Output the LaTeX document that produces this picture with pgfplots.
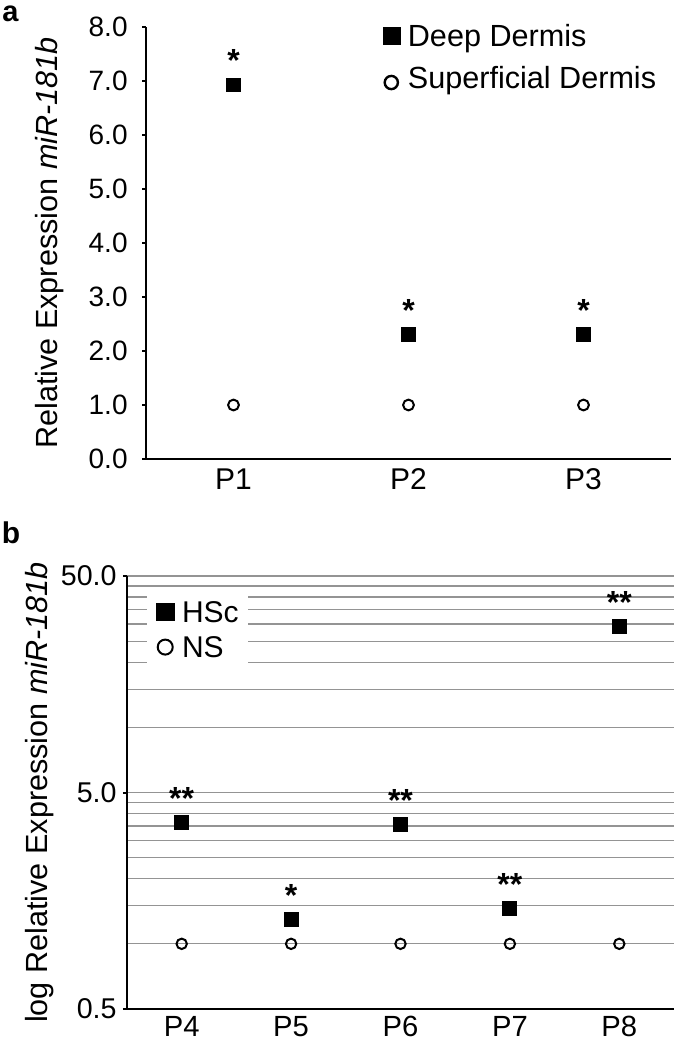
\documentclass[border=0pt]{standalone}
\usepackage{fontspec}
\setmainfont{Liberation Sans}
\usepackage{pgfplots}
\pgfplotsset{compat=1.18}

\pgfplotsset{
  panel/.style={
    scale only axis,
    axis x line*=bottom, axis y line*=left,
    axis line style={line width=1.1pt, -},
    tick align=outside,
    major tick length=2pt,
    minor tick length=0pt,
    ytick style={line width=1pt, black},
    xtick style={draw=none},
    /pgf/number format/assume math mode=true,
    yticklabel style={anchor=east, inner sep=0pt, font=\fontsize{14}{16}\selectfont},
    xticklabel style={anchor=north, inner sep=0pt, font=\fontsize{15}{18}\selectfont},
    ylabel style={font=\fontsize{15.3}{18}\selectfont, anchor=base},
    clip=false,
    legend cell align=left,
    legend image code/.code={\draw[#1] plot coordinates {(0pt,0pt)};},
    stars/.style={nodes near coords, point meta=explicit symbolic,
      every node near coord/.append style={font=\fontsize{16}{18}\selectfont\bfseries,
        anchor=base, yshift=6.5pt}},
  },
}

\begin{document}
\begin{tikzpicture}
\useasboundingbox (0pt,0pt) rectangle (337.5pt,520.5pt);

% panel a
\begin{axis}[panel,
  at={(73pt,291pt)}, anchor=south west, width=262.5pt, height=216pt,
  xmin=0.5, xmax=3.5, ymin=0, ymax=8,
  xtick={1,2,3}, xticklabels={P1,P2,P3},
  ytick={0,...,8},
  yticklabel style={xshift=-7pt, /pgf/number format/fixed, /pgf/number format/fixed zerofill, /pgf/number format/precision=1},
  xticklabel style={yshift=-2.75pt},
  ylabel={Relative Expression \textit{miR-181b}},
  ylabel style={at={(axis description cs:-0.1695,0.5)}},
  legend style={at={(axis description cs:0.452,1.006)}, anchor=north west,
    draw=none, fill=none, inner sep=0pt, row sep=10.3pt,
    font=\fontsize{15.3}{18}\selectfont,
    nodes={inner sep=0pt, text height=10.7pt, text depth=0pt},
    /tikz/every odd column/.append style={column sep=3.5pt}},
]
\addplot[only marks, mark=square*, mark size=3.4pt, black, forget plot, stars]
  coordinates {(1,6.93)[*] (2,2.31)[*] (3,2.31)[*]};
\addplot[only marks, mark=o, mark size=2.7pt, line width=1pt, black, forget plot]
  coordinates {(1,1.0) (2,1.0) (3,1.0)};
\addlegendimage{only marks, mark=square*, mark size=4.3pt, black}
\addlegendentry{Deep Dermis}
\addlegendimage{only marks, mark=o, mark size=3.3pt, line width=1.2pt, black,
  mark options={yshift=-2.5pt, xshift=-0.5pt}}
\addlegendentry{Superficial Dermis}
\end{axis}

% panel b
\begin{axis}[panel,
  at={(63.5pt,16pt)}, anchor=south west, width=273.5pt, height=216.5pt,
  ymode=log,
  xmin=0.5, xmax=5.5, ymin=0.5, ymax=50,
  xtick={1,2,3,4,5}, xticklabels={P4,P5,P6,P7,P8},
  ytick={0.5,5,50}, yticklabels={0.5,5.0,50.0},
  minor ytick={1,1.5,2,2.5,3,3.5,4,4.5,10,15,20,25,30,35,40,45},
  ymajorgrids, yminorgrids,
  major grid style={black!42, line width=0.6pt},
  minor grid style={black!42, line width=0.6pt},
  yticklabel style={xshift=-3pt, font=\fontsize{14.3}{16}\selectfont},
  xticklabel style={yshift=-1.5pt, font=\fontsize{14.6}{17}\selectfont},
  ylabel={log Relative Expression \textit{miR-181b}},
  ylabel style={at={(axis description cs:-0.146,0.5)}},
  legend style={at={(axis description cs:0.0366,0.9677)}, anchor=north west,
    draw=none, fill=white, inner xsep=4.5pt, inner ysep=5.5pt, row sep=6.8pt,
    font=\fontsize{15}{18}\selectfont,
    nodes={inner sep=0pt, text height=10.7pt, text depth=0pt},
    /tikz/every odd column/.append style={column sep=4pt}},
]
\addplot[only marks, mark=square*, mark size=3.5pt, black, forget plot, stars]
  coordinates {(1,3.62)[**] (2,1.29)[*] (3,3.55)[**] (4,1.45)[**] (5,29.2)[**]};
\addplot[only marks, mark=o, mark size=2.6pt, line width=1pt, black, forget plot]
  coordinates {(1,1.0) (2,1.0) (3,1.0) (4,1.0) (5,1.0)};
\addlegendimage{only marks, mark=square*, mark size=4.4pt, black}
\addlegendentry{HSc}
\addlegendimage{only marks, mark=o, mark size=3.75pt, line width=1pt, black}
\addlegendentry{NS}
\end{axis}

\node[anchor=base west, inner sep=0pt, font=\fontsize{14.5}{17}\selectfont\bfseries] at (1pt,509.5pt) {a};
\node[anchor=base west, inner sep=0pt, font=\fontsize{15}{18}\selectfont\bfseries] at (0.8pt,248.5pt) {b};
\end{tikzpicture}
\end{document}
